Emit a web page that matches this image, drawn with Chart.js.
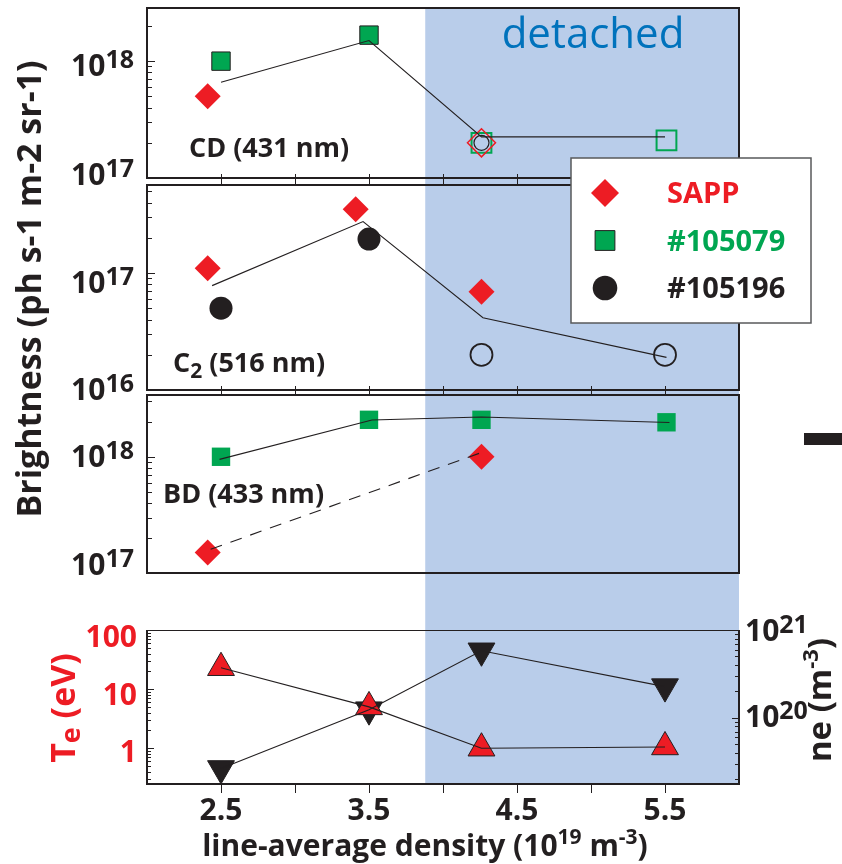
<!DOCTYPE html>
<html>
<head>
<meta charset="utf-8">
<title>Brightness vs line-average density</title>
<script src="https://cdn.jsdelivr.net/npm/chart.js@4.4.1/dist/chart.umd.min.js"></script>
<style>
  body { margin: 0; background: #fff; }
  #page { position: relative; width: 842px; height: 864px; overflow: hidden; }
  #page canvas { position: absolute; left: 0; top: 0; }
</style>
</head>
<body>
<div id="page">
  <canvas id="cd" width="842" height="864"></canvas>
  <canvas id="c2" width="842" height="864"></canvas>
  <canvas id="bd" width="842" height="864"></canvas>
  <canvas id="te" width="842" height="864"></canvas>
</div>
<script>
// ---- data ----
const xMin = 2.0, xMax = 6.0;
const detachedStart = 3.88;
const xTickLabels = [2.5, 3.5, 4.5, 5.5];
const xMinorTicks = [3.0, 4.0, 5.0];
const legendLabels = ['SAPP', '#105079', '#105196'];

// CD (431 nm)
const cdSappX = [2.41], cdSappY = [5.0e17];
const cdSappOpenX = [4.26], cdSappOpenY = [2.0e17];
const cd105079X = [2.5, 3.5], cd105079Y = [1.0e18, 1.67e18];
const cd105079OpenX = [4.26, 5.51], cd105079OpenY = [2.0e17, 2.1e17];
const cd105196OpenX = [4.26], cd105196OpenY = [2.0e17];
const cdLineX = [2.5, 3.5, 4.26, 5.5], cdLineY = [6.6e17, 1.5e18, 2.25e17, 2.25e17];

// C2 (516 nm)
const c2SappX = [2.41, 3.41, 4.26], c2SappY = [1.1e17, 3.5e17, 6.9e16];
const c2105196X = [2.5, 3.5], c2105196Y = [5.0e16, 1.95e17];
const c2105196OpenX = [4.26, 5.5], c2105196OpenY = [2.0e16, 2.0e16];
const c2LineX = [2.44, 3.46, 4.27, 5.51], c2LineY = [7.8e16, 2.75e17, 4.15e16, 1.9e16];

// BD (433 nm)
const bdSappX = [2.41, 4.26], bdSappY = [1.5e17, 1.0e18];
const bdSappLineX = [2.43, 4.27], bdSappLineY = [1.6e17, 1.1e18];
const bd105079X = [2.5, 3.5, 4.26, 5.51], bd105079Y = [1.0e18, 2.08e18, 2.08e18, 1.98e18];
const bdLineX = [2.49, 3.52, 4.26, 5.53], bdLineY = [0.95e18, 2.07e18, 2.2e18, 1.97e18];

// Te (eV) and ne (m-3)
const probeX = [2.5, 3.5, 4.26, 5.5];
const teY = [23, 5.0, 1.0, 1.05];
const neY = [2.66e19, 1.24e20, 5.8e20, 2.27e20];

// axis ranges
const cdRange = [1e17, 2.85e18];
const c2Range = [1e16, 5.65e17];
const bdRange = [1e17, 3.4e18];
const teRange = [0.248, 100];
const neRange = [1.77e19, 1.0e21];

// ---- styles ----
const RED = '#ed1c24', GREEN = '#00a651', BLACK = '#231f20', BAND = '#b9cdea', BLUE = '#0072bc';
const NONE = 'rgba(0,0,0,0)';
const FONT = '"Open Sans", "DejaVu Sans", sans-serif';
const f = (size, weight) => `${weight || 'bold'} ${size}px ${FONT}`;

const sappFill = { pointStyle: 'rectRot', pointRadius: 13, pointBackgroundColor: RED, pointBorderColor: RED, pointBorderWidth: 0 };
const sappOpen = { pointStyle: 'rectRot', pointRadius: 14, pointBackgroundColor: NONE, pointBorderColor: RED, pointBorderWidth: 1.5 };
const g1Fill = { pointStyle: 'rect', pointRadius: 13, pointBackgroundColor: GREEN, pointBorderColor: BLACK, pointBorderWidth: 1 };
const g1Plain = { pointStyle: 'rect', pointRadius: 13, pointBackgroundColor: GREEN, pointBorderColor: GREEN, pointBorderWidth: 0 };
const g1Open = { pointStyle: 'rect', pointRadius: 14, pointBackgroundColor: NONE, pointBorderColor: GREEN, pointBorderWidth: 2 };
const k2Fill = { pointStyle: 'circle', pointRadius: 11.5, pointBackgroundColor: BLACK, pointBorderColor: BLACK, pointBorderWidth: 0 };
const k2Open = { pointStyle: 'circle', pointRadius: 11, pointBackgroundColor: NONE, pointBorderColor: BLACK, pointBorderWidth: 1.8 };
const k2OpenSmall = { pointStyle: 'circle', pointRadius: 7.5, pointBackgroundColor: NONE, pointBorderColor: BLACK, pointBorderWidth: 1.2 };
const teTri = { pointStyle: 'triangle', pointRadius: 15.5, pointBackgroundColor: RED, pointBorderColor: BLACK, pointBorderWidth: 1 };
const neTri = { pointStyle: 'triangle', pointRotation: 180, pointRadius: 15.5, pointBackgroundColor: BLACK, pointBorderColor: BLACK, pointBorderWidth: 1 };

const pts = (xs, ys) => xs.map((x, i) => ({ x, y: ys[i] }));

function markerSet(label, xs, ys, style, yAxisID) {
  return Object.assign({ label, data: pts(xs, ys), yAxisID: yAxisID || 'y', showLine: false, clip: false, order: 2 }, style);
}
function lineSet(xs, ys, yAxisID, dash) {
  return { label: 'line', data: pts(xs, ys), yAxisID: yAxisID || 'y', showLine: true, pointRadius: 0,
    borderColor: BLACK, borderWidth: 1.1, borderDash: dash || [], clip: false, order: 1 };
}

// ---- drawing helpers ----
function rich(ctx, parts, x, y, align) {
  let total = 0;
  const widths = parts.map(p => { ctx.font = f(p.size, p.weight); const w = ctx.measureText(p.t).width; total += w; return w; });
  let cx = align === 'right' ? x - total : align === 'center' ? x - total / 2 : x;
  ctx.textAlign = 'left';
  ctx.textBaseline = 'alphabetic';
  parts.forEach((p, i) => {
    ctx.font = f(p.size, p.weight);
    ctx.fillStyle = p.color || BLACK;
    ctx.fillText(p.t, cx, y + (p.dy || 0));
    cx += widths[i];
  });
}
function rotated(ctx, x, y, fn) {
  ctx.save(); ctx.translate(x, y); ctx.rotate(-Math.PI / 2); fn(); ctx.restore();
}
function logTicks(s) {
  const out = [];
  for (let e = Math.floor(Math.log10(s.min)); e <= Math.ceil(Math.log10(s.max)); e++) {
    for (let m = 1; m <= 9; m++) {
      const v = m * Math.pow(10, e);
      if (v >= s.min * 0.999 && v <= s.max * 1.001) out.push({ v, e, major: m === 1 });
    }
  }
  return out;
}
function drawXTicks(ctx, x, y, up, down) {
  xTickLabels.concat(xMinorTicks).forEach(v => {
    const px = Math.round(x.getPixelForValue(v)) + 0.5;
    ctx.beginPath(); ctx.moveTo(px, y - up); ctx.lineTo(px, y + down); ctx.stroke();
  });
}

function decor(cfg) {
  return {
    id: 'decor',
    beforeDatasetsDraw(chart) {
      const { ctx, chartArea: a, scales: { x } } = chart;
      const bx0 = x.getPixelForValue(detachedStart), bx1 = x.getPixelForValue(xMax);
      const top = cfg.band[0] === null ? a.top : cfg.band[0];
      const bottom = cfg.band[1] === null ? a.bottom : cfg.band[1];
      ctx.save();
      ctx.fillStyle = BAND;
      ctx.fillRect(bx0, top, bx1 - bx0, bottom - top);
      ctx.restore();
    },
    afterDatasetsDraw(chart) {
      const { ctx, chartArea: a, scales } = chart;
      ctx.save();
      ctx.strokeStyle = BLACK;
      // frame
      if (cfg.openTop) {
        ctx.lineWidth = 1;
        ctx.beginPath(); ctx.moveTo(a.left, a.top + 0.5); ctx.lineTo(a.right, a.top + 0.5); ctx.stroke();
        ctx.lineWidth = 2;
        ctx.beginPath(); ctx.moveTo(a.left, a.top); ctx.lineTo(a.left, a.bottom); ctx.lineTo(a.right, a.bottom); ctx.lineTo(a.right, a.top); ctx.stroke();
      } else {
        ctx.lineWidth = 2;
        ctx.strokeRect(a.left, a.top, a.right - a.left, a.bottom - a.top);
      }
      // x ticks
      ctx.lineWidth = 1;
      if (cfg.xTop) drawXTicks(ctx, scales.x, a.top, cfg.xTop[0], cfg.xTop[1]);
      if (cfg.xBottom) drawXTicks(ctx, scales.x, a.bottom, cfg.xBottom[0], cfg.xBottom[1]);
      // y ticks and labels
      cfg.yAxes.forEach(ax => {
        const s = scales[ax.id];
        const left = ax.side === 'left';
        const x0 = left ? a.left : a.right, dir = left ? 1 : -1;
        logTicks(s).forEach(t => {
          const py = Math.round(s.getPixelForValue(t.v)) + 0.5;
          const len = t.major ? ax.major : ax.minor;
          ctx.beginPath(); ctx.moveTo(x0, py); ctx.lineTo(x0 + dir * len, py); ctx.stroke();
          if (!t.major) return;
          const yc = s.getPixelForValue(t.v) + (ax.shift[t.e] || 0);
          if (ax.kind === 'pow') {
            const parts = [{ t: '10', size: 30 }, { t: String(t.e), size: 25, dy: -8 }];
            rich(ctx, parts, left ? a.left - 13 : a.right + 6, yc + 11, left ? 'right' : 'left');
          } else {
            rich(ctx, [{ t: String(t.v), size: 30, color: ax.color }], a.left - 10, yc + 11, 'right');
          }
        });
      });
      ctx.restore();
    },
    afterDraw(chart) {
      if (cfg.extra) cfg.extra(chart, chart.ctx, chart.chartArea);
    }
  };
}

function panel(id, padding, scales, datasets, plugin) {
  return new Chart(document.getElementById(id), {
    type: 'scatter',
    data: { datasets },
    options: {
      responsive: false,
      animation: false,
      events: [],
      layout: { padding, autoPadding: false },
      plugins: { legend: { display: false }, tooltip: { enabled: false } },
      scales: Object.assign({ x: { type: 'linear', display: false, min: xMin, max: xMax } }, scales)
    },
    plugins: [plugin]
  });
}
const logAxis = (range, position) => ({ type: 'logarithmic', display: false, min: range[0], max: range[1], position: position || 'left' });

// ---- panel 1: CD ----
panel('cd', { left: 147, right: 103, top: 8, bottom: 864 - 178 }, { y: logAxis(cdRange) }, [
  lineSet(cdLineX, cdLineY),
  markerSet('#105196', cd105196OpenX, cd105196OpenY, k2OpenSmall),
  markerSet('SAPP', cdSappOpenX, cdSappOpenY, sappOpen),
  markerSet('#105079', cd105079OpenX, cd105079OpenY, g1Open),
  markerSet('SAPP', cdSappX, cdSappY, sappFill),
  markerSet('#105079', cd105079X, cd105079Y, g1Fill)
], decor({
  band: [null, 182],
  xBottom: [4, 4],
  yAxes: [{ id: 'y', side: 'left', kind: 'pow', major: 8, minor: 5, shift: { 17: -4, 18: 4 } }],
  extra(chart, ctx) {
    rich(ctx, [{ t: 'detached', size: 42, weight: 'normal', color: BLUE }], 593, 48, 'center');
    rich(ctx, [{ t: 'CD (431 nm)', size: 27 }], 189, 157, 'left');
  }
}));

// ---- panel 2: C2, carries the legend ----
const legendStyles = [
  { style: sappFill, color: RED, r: 14 },
  { style: g1Fill, color: GREEN, r: 14 },
  { style: k2Fill, color: BLACK, r: 12.3 }
];
panel('c2', { left: 147, right: 103, top: 185, bottom: 864 - 390 }, { y: logAxis(c2Range) }, [
  lineSet(c2LineX, c2LineY),
  markerSet('SAPP', c2SappX, c2SappY, sappFill),
  markerSet('#105196', c2105196X, c2105196Y, k2Fill),
  markerSet('#105196', c2105196OpenX, c2105196OpenY, k2Open)
], decor({
  band: [182, 393],
  xTop: [4, 0],
  xBottom: [4, 3],
  yAxes: [{ id: 'y', side: 'left', kind: 'pow', major: 8, minor: 5, shift: { 16: -1, 17: 9 } }],
  extra(chart, ctx) {
    rich(ctx, [{ t: 'C', size: 27 }, { t: '2', size: 21, dy: 6 }, { t: ' (516 nm)', size: 27 }], 173, 372, 'left');
    // legend box
    ctx.save();
    ctx.fillStyle = '#ffffff';
    ctx.strokeStyle = '#58595b';
    ctx.lineWidth = 1.5;
    ctx.fillRect(571, 158, 240, 165);
    ctx.strokeRect(571, 158, 240, 165);
    const draw = Chart.helpers && Chart.helpers.drawPoint;
    legendLabels.forEach((label, i) => {
      const cy = 193 + i * 47.5;
      const st = legendStyles[i];
      ctx.fillStyle = st.style.pointBackgroundColor;
      ctx.strokeStyle = st.style.pointBorderColor;
      ctx.lineWidth = st.style.pointBorderWidth;
      if (draw) {
        draw(ctx, { pointStyle: st.style.pointStyle, radius: st.r, rotation: 0, borderWidth: st.style.pointBorderWidth }, 605, cy);
      } else {
        ctx.beginPath(); ctx.arc(605, cy, st.r, 0, Math.PI * 2); ctx.fill();
      }
      rich(ctx, [{ t: label, size: 29, color: st.color }], 667, cy + 10, 'left');
    });
    ctx.restore();
  }
}));

// ---- panel 3: BD ----
panel('bd', { left: 147, right: 103, top: 395, bottom: 864 - 573 }, { y: logAxis(bdRange) }, [
  lineSet(bdLineX, bdLineY),
  lineSet(bdSappLineX, bdSappLineY, 'y', [12, 9]),
  markerSet('#105079', bd105079X, bd105079Y, g1Plain),
  markerSet('SAPP', bdSappX, bdSappY, sappFill)
], decor({
  band: [393, 602],
  xTop: [2, 0],
  yAxes: [{ id: 'y', side: 'left', kind: 'pow', major: 8, minor: 5, shift: { 17: -9, 18: -1 } }],
  extra(chart, ctx) {
    rich(ctx, [{ t: 'BD (433 nm)', size: 27 }], 163, 503, 'left');
    ctx.fillStyle = BLACK;
    ctx.fillRect(804, 433, 38, 12);
    rotated(ctx, 41, 289, () => rich(ctx, [{ t: 'Brightness (ph s-1 m-2 sr-1)', size: 34 }], 0, 0, 'center'));
  }
}));

// ---- panel 4: Te and ne ----
panel('te', { left: 147, right: 103, top: 630, bottom: 864 - 784 }, { yTe: logAxis(teRange), yNe: logAxis(neRange, 'right') }, [
  lineSet(probeX, teY, 'yTe'),
  lineSet(probeX, neY, 'yNe'),
  markerSet('Te', probeX, teY, teTri, 'yTe'),
  markerSet('ne', probeX, neY, neTri, 'yNe')
], decor({
  band: [602, null],
  openTop: true,
  xBottom: [0, 9],
  yAxes: [
    { id: 'yTe', side: 'left', kind: 'plain', color: RED, major: 7, minor: 4, shift: { 0: 3, 1: 5, 2: 6 } },
    { id: 'yNe', side: 'right', kind: 'pow', major: 7, minor: 4, shift: { 20: -2, 21: 0 } }
  ],
  extra(chart, ctx, a) {
    const x = chart.scales.x;
    xTickLabels.forEach(v => rich(ctx, [{ t: v.toFixed(1), size: 30 }], x.getPixelForValue(v), 820, 'center'));
    rich(ctx, [
      { t: 'line-average density (10', size: 30 }, { t: '19', size: 21, dy: -12 },
      { t: ' m', size: 30 }, { t: '-3', size: 21, dy: -12 }, { t: ')', size: 30 }
    ], 425, 856, 'center');
    rotated(ctx, 75, 708, () => rich(ctx, [
      { t: 'T', size: 34, color: RED }, { t: 'e', size: 27, dy: 5, color: RED }, { t: ' (eV)', size: 34, color: RED }
    ], 0, 0, 'center'));
    rotated(ctx, 831, 700, () => rich(ctx, [
      { t: 'ne (m', size: 33 }, { t: '-3', size: 22, dy: -13 }, { t: ')', size: 33 }
    ], 0, 0, 'center'));
  }
}));
</script>
</body>
</html>
